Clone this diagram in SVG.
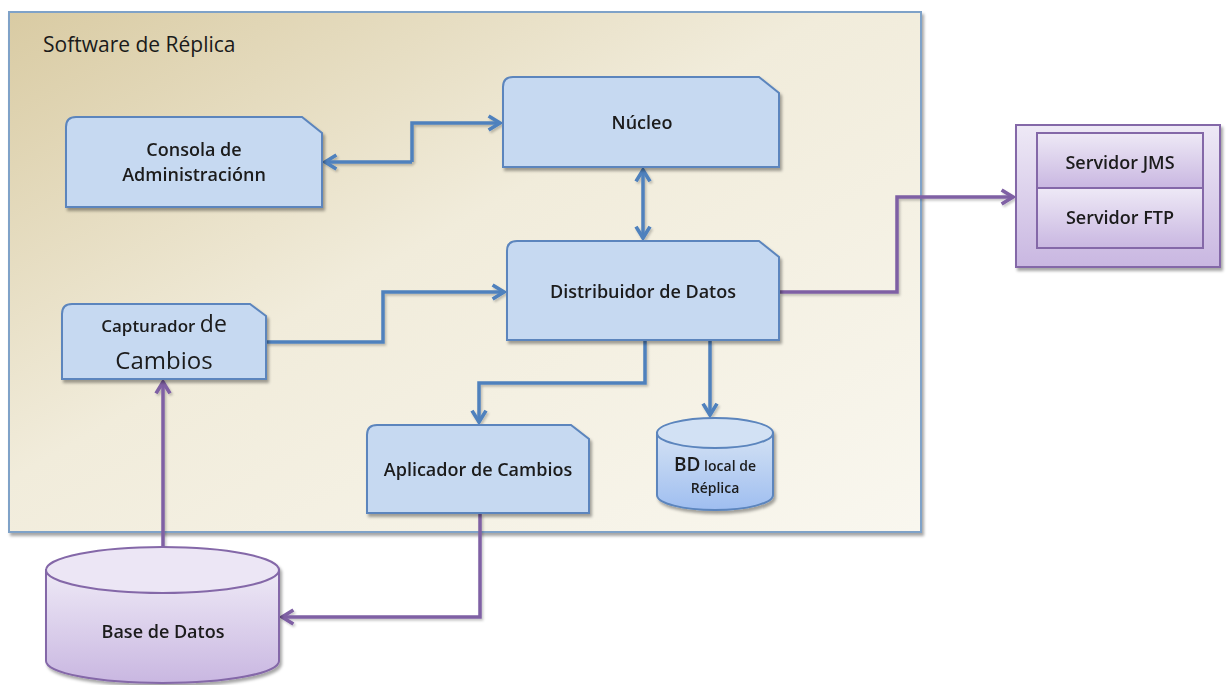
<svg xmlns="http://www.w3.org/2000/svg" width="1231" height="685" viewBox="0 0 1231 685">
  <style>
    .lbl { font-family: "Open Sans", Lato, sans-serif; font-weight: 600; fill: #1a1a1a; text-anchor: middle; }
    .reg { font-weight: normal; }
    .blue { fill: #c6d9f1; stroke: #5b85bd; stroke-width: 2; }
    .purp { fill: url(#purpGrad); stroke: #8467a8; stroke-width: 2; }
    .cb { fill: none; stroke: #4f81bd; stroke-width: 3.5; }
    .cp { fill: none; stroke: #7f60a4; stroke-width: 3.5; }
  </style>
  <defs>
    <linearGradient id="bgGrad" x1="0" y1="0" x2="1" y2="1">
      <stop offset="0" stop-color="#d9cba3"/>
      <stop offset="0.45" stop-color="#f1ecdb"/>
      <stop offset="1" stop-color="#f9f7ef"/>
    </linearGradient>
    <linearGradient id="purpGrad" x1="0" y1="0" x2="0" y2="1">
      <stop offset="0" stop-color="#eee9f6"/>
      <stop offset="1" stop-color="#c9b7e1"/>
    </linearGradient>
    <linearGradient id="cylBlue" x1="0" y1="0" x2="0" y2="1">
      <stop offset="0" stop-color="#d4e2f4"/>
      <stop offset="1" stop-color="#9fbef0"/>
    </linearGradient>
    <filter id="shadow" x="-10%" y="-10%" width="130%" height="130%">
      <feDropShadow dx="2" dy="3" stdDeviation="1.5" flood-color="#000" flood-opacity="0.35"/>
    </filter>
    <filter id="lineShadow" x="-5%" y="-5%" width="110%" height="110%">
      <feDropShadow dx="1.5" dy="2" stdDeviation="1" flood-color="#000" flood-opacity="0.22"/>
    </filter>
    <marker id="ab" viewBox="0 0 10 10" refX="8" refY="5" markerWidth="5" markerHeight="5" orient="auto-start-reverse" markerUnits="strokeWidth">
      <path d="M1.5,1 L8,5 L1.5,9" fill="none" stroke="#4f81bd" stroke-width="2.1"/>
    </marker>
    <marker id="ap" viewBox="0 0 10 10" refX="8" refY="5" markerWidth="5" markerHeight="5" orient="auto-start-reverse" markerUnits="strokeWidth">
      <path d="M1.5,1 L8,5 L1.5,9" fill="none" stroke="#7f60a4" stroke-width="2.1"/>
    </marker>
  </defs>

  <!-- container -->
  <g id="software-replica">
    <rect x="9" y="12" width="912" height="520" fill="url(#bgGrad)" stroke="#7fa2c8" stroke-width="2" filter="url(#shadow)"/>
    <text x="43" y="52" font-family="'Open Sans', Lato, sans-serif" font-size="21" fill="#1a1a1a">Software de Réplica</text>
  </g>

  <!-- connectors -->
  <g id="connectors" filter="url(#lineShadow)">
    <path class="cb" d="M412,162 L325,162" marker-end="url(#ab)"/>
    <path class="cb" d="M412,162 L412,123 L500,123" marker-end="url(#ab)"/>
    <path class="cb" d="M643,170 L643,238" marker-start="url(#ab)" marker-end="url(#ab)"/>
    <path class="cb" d="M266,342 L383,342 L383,292 L504,292" marker-end="url(#ab)"/>
    <path class="cb" d="M645,341 L645,383 L479,383 L479,422" marker-end="url(#ab)"/>
    <path class="cb" d="M710,341 L710,415" marker-end="url(#ab)"/>
    <path class="cp" d="M780,292 L897,292 L897,197 L1013,197" marker-end="url(#ap)"/>
    <path class="cp" d="M163,547 L163,382" marker-end="url(#ap)"/>
    <path class="cp" d="M480,514 L480,617 L282,617" marker-end="url(#ap)"/>
  </g>

  <g id="consola" filter="url(#shadow)">
    <path class="blue" d="M66,207 L66,127 Q66,117 76,117 L302,117 L322,133 L322,207 Z"/>
    <text class="lbl" x="194" y="156" font-size="18">Consola de</text>
    <text class="lbl" x="194" y="181" font-size="18">Administraciónn</text>
  </g>

  <g id="nucleo" filter="url(#shadow)">
    <path class="blue" d="M503,167 L503,87 Q503,77 513,77 L759,77 L779,93 L779,167 Z"/>
    <text class="lbl" x="642" y="129" font-size="18">Núcleo</text>
  </g>

  <g id="distribuidor" filter="url(#shadow)">
    <path class="blue" d="M507,340 L507,251 Q507,241 517,241 L759,241 L779,257 L779,340 Z"/>
    <text class="lbl" x="643" y="298" font-size="18">Distribuidor de Datos</text>
  </g>

  <g id="capturador" filter="url(#shadow)">
    <path class="blue" d="M62,379 L62,314 Q62,304 72,304 L250,304 L266,316 L266,379 Z"/>
    <text class="lbl" x="164" y="332" font-size="17">Capturador <tspan class="reg" font-size="23">de</tspan></text>
    <text class="lbl reg" x="164" y="369" font-size="24">Cambios</text>
  </g>

  <g id="aplicador" filter="url(#shadow)">
    <path class="blue" d="M367,513 L367,435 Q367,425 377,425 L571,425 L589,439 L589,513 Z"/>
    <text class="lbl" x="478" y="476" font-size="18">Aplicador de Cambios</text>
  </g>

  <g id="bd-local" filter="url(#shadow)">
    <path d="M657,433 L657,495 A58,15 0 0 0 773,495 L773,433 Z" fill="url(#cylBlue)" stroke="#5b85bd" stroke-width="2"/>
    <ellipse cx="715" cy="433" rx="58" ry="15" fill="#d2e1f4" stroke="#5b85bd" stroke-width="2"/>
    <text class="lbl" x="715" y="471" font-size="14"><tspan font-size="19">BD</tspan> local de</text>
    <text class="lbl" x="715" y="493" font-size="14">Réplica</text>
  </g>

  <g id="servidores" filter="url(#shadow)">
    <rect class="purp" x="1016" y="125" width="204" height="142"/>
    <rect class="purp" x="1037" y="133" width="166" height="55"/>
    <rect class="purp" x="1037" y="188" width="166" height="60"/>
    <text class="lbl" x="1120" y="169" font-size="18">Servidor JMS</text>
    <text class="lbl" x="1120" y="224" font-size="18">Servidor FTP</text>
  </g>

  <g id="base-datos" filter="url(#shadow)">
    <path class="purp" d="M46,570 L46,661 A116.5,22 0 0 0 279,661 L279,570 Z"/>
    <ellipse cx="162.5" cy="570" rx="116.5" ry="23" fill="#ece6f5" stroke="#8467a8" stroke-width="2"/>
    <text class="lbl" x="163" y="638" font-size="18">Base de Datos</text>
  </g>
</svg>
